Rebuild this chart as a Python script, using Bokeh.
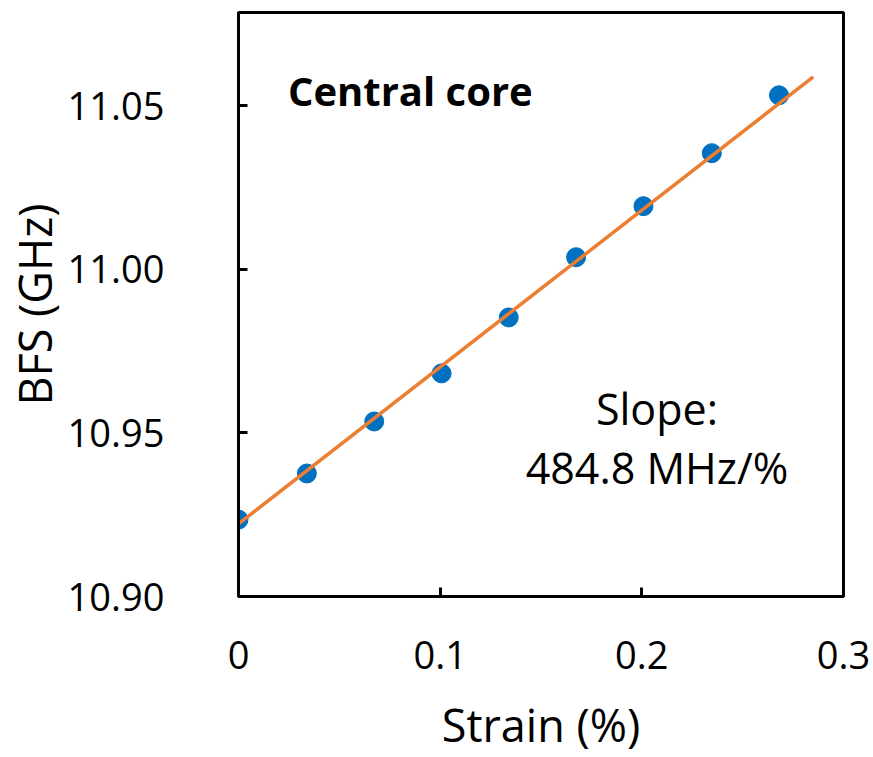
from bokeh.plotting import figure
from bokeh.models import Range1d, FixedTicker, Label
from bokeh.embed import file_html
from bokeh.resources import INLINE

strain = [0.0, 0.0339, 0.0673, 0.1007, 0.134, 0.1674, 0.2008, 0.2347, 0.268]
bfs = [10.9235, 10.9376, 10.9535, 10.9682, 10.9853, 11.0037, 11.0193, 11.0355, 11.0532]
fit_x = [0.0, 0.285]
fit_y = [10.9222, 11.0588]
x_ticks = [0, 0.1, 0.2, 0.3]
x_tick_labels = ["0", "0.1", "0.2", "0.3"]
y_ticks = [10.90, 10.95, 11.00, 11.05]
y_tick_labels = ["10.90", "10.95", "11.00", "11.05"]

FONT = "Open Sans"

p = figure(width=873, height=757, output_backend="svg", toolbar_location=None,
           x_range=Range1d(0, 0.3), y_range=Range1d(10.9, 11.0785))
p.min_border_left = 238
p.min_border_right = 30
p.min_border_top = 12
p.min_border_bottom = 160
p.background_fill_color = "white"
p.border_fill_color = "white"
p.grid.visible = False
p.outline_line_color = "black"
p.outline_line_width = 3

p.xaxis.ticker = FixedTicker(ticks=x_ticks)
p.xaxis.major_label_overrides = {t: l for t, l in zip(x_ticks, x_tick_labels)}
p.yaxis.ticker = FixedTicker(ticks=y_ticks)
p.yaxis.major_label_overrides = {t: l for t, l in zip(y_ticks, y_tick_labels)}

for ax in (p.xaxis[0], p.yaxis[0]):
    ax.axis_line_color = "black"
    ax.axis_line_width = 3
    ax.major_tick_in = 9
    ax.major_tick_out = 0
    ax.major_tick_line_width = 3
    ax.major_tick_line_color = "black"
    ax.minor_tick_in = 0
    ax.minor_tick_out = 0
    ax.major_label_text_font = FONT
    ax.major_label_text_font_size = "38px"
    ax.major_label_text_color = "black"
    ax.axis_label_text_font = FONT
    ax.axis_label_text_font_size = "45px"
    ax.axis_label_text_font_style = "normal"
    ax.axis_label_text_color = "black"

p.xaxis.axis_label = "Strain (%)"
p.yaxis.axis_label = "BFS (GHz)"
p.xaxis.major_label_standoff = 44
p.xaxis.axis_label_standoff = 22
p.yaxis.major_label_standoff = 74
p.yaxis.axis_label_standoff = 0

p.scatter(strain, bfs, size=19, color="#0070C0", line_color="#0070C0")
p.line(fit_x, fit_y, line_color="#ED7D31", line_width=3.5)

p.add_layout(Label(x=0.0245, y=11.0546, text="Central core", text_font=FONT,
                   text_font_size="40px", text_font_style="bold", text_color="black",
                   text_baseline="middle"))
p.add_layout(Label(x=0.2075, y=10.9575, text="Slope:", text_font=FONT,
                   text_font_size="43px", text_color="black",
                   text_align="center", text_baseline="middle"))
p.add_layout(Label(x=0.2075, y=10.9395, text="484.8 MHz/%", text_font=FONT,
                   text_font_size="43px", text_color="black",
                   text_align="center", text_baseline="middle"))

open("out.html", "w").write(file_html(p, INLINE))
